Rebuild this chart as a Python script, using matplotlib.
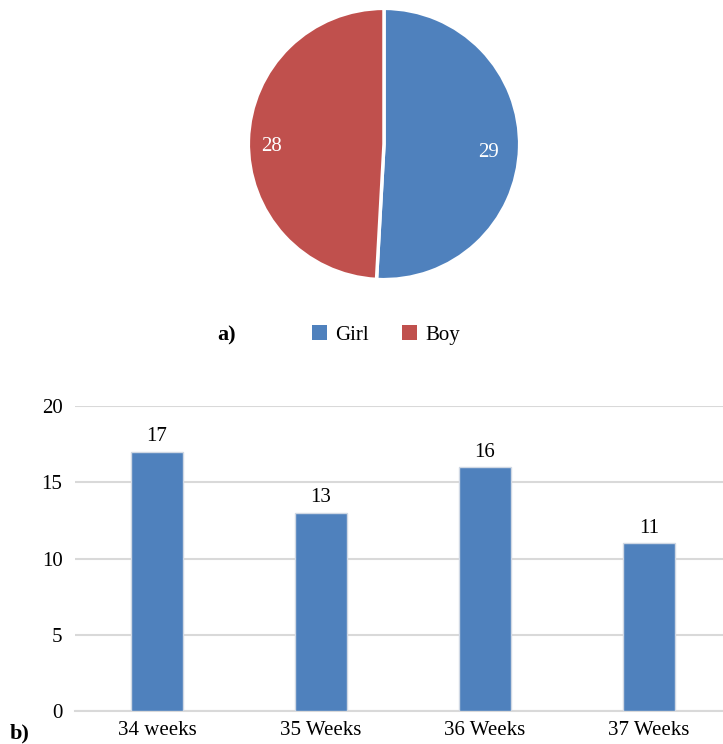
import numpy as np
import matplotlib.pyplot as plt
from matplotlib.patches import Patch

# data
sex_labels = ["Girl", "Boy"]
sex_counts = [29, 28]
sex_colors = ["#4f81bd", "#c0504d"]

weeks = ["34 weeks", "35 Weeks", "36 Weeks", "37 Weeks"]
week_counts = [17, 13, 16, 11]

plt.rcParams['font.family'] = ['Liberation Serif', 'DejaVu Serif']
FS = 15

W, H = 723, 744
fig = plt.figure(figsize=(W / 100, H / 100), dpi=100)

# a) pie chart
cx, cy, r = 384, 144, 137
ax1 = fig.add_axes([(cx - r) / W, (H - cy - r) / H, 2 * r / W, 2 * r / H])
wedges, texts = ax1.pie(sex_counts, colors=sex_colors, startangle=90, counterclock=False,
                        wedgeprops=dict(edgecolor="white", linewidth=2.5))
ax1.set_xlim(-1.01, 1.01)
ax1.set_ylim(-1.01, 1.01)
ax1.set_aspect("equal")
label_dist = [0.77, 0.83]
for w, n, d in zip(wedges, sex_counts, label_dist):
    ang = np.deg2rad((w.theta1 + w.theta2) / 2)
    ax1.text(d * np.cos(ang), d * np.sin(ang) - 0.04, str(n), color="white",
             ha="center", va="center", fontsize=FS)

fig.text(217 / W, 1 - 335 / H, "a)", fontsize=FS + 1, fontweight="bold", ha="left", va="center")
handles = [Patch(facecolor=c, edgecolor="none") for c in sex_colors]
fig.legend(handles, sex_labels, loc="center", bbox_to_anchor=(386 / W, 1 - 335 / H),
           ncol=2, frameon=False, fontsize=FS, handlelength=0.7, handleheight=0.7,
           handletextpad=0.4, columnspacing=1.6)

# b) bar chart
left, right, bottom, top = 75, 723, 711, 406
ax2 = fig.add_axes([left / W, (H - bottom) / H, (right - left) / W, (bottom - top) / H])
x = list(range(len(weeks)))
bars = ax2.bar(x, week_counts, width=0.32, color="#4f81bd", edgecolor="#d0d8e4",
               linewidth=1, zorder=3)
for xi, v in zip(x, week_counts):
    ax2.text(xi, v + 0.35, str(v), ha="center", va="bottom", fontsize=FS)
ax2.set_xlim(-0.5, -0.5 + (right - left) / 164)
ax2.set_ylim(0, 20)
ax2.set_yticks([0, 5, 10, 15, 20])
ax2.set_xticks(x)
ax2.set_xticklabels(weeks)
ax2.grid(axis="y", color="#d9d9d9", linewidth=1.5, zorder=0)
for s in ["top", "right", "left"]:
    ax2.spines[s].set_visible(False)
ax2.spines["bottom"].set_color("#d9d9d9")
ax2.spines["bottom"].set_linewidth(1.5)
ax2.tick_params(length=0, labelsize=FS, pad=7)
ax2.tick_params(axis="y", pad=9)

fig.text(10 / W, 1 - 733 / H, "b)", fontsize=FS + 1, fontweight="bold", ha="left", va="center")

fig.savefig("out.png", dpi=100)
